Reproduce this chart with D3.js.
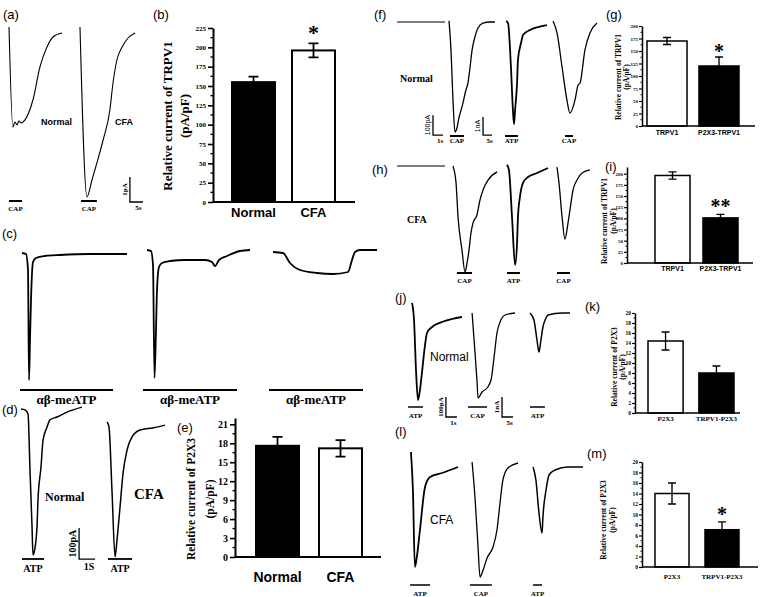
<!DOCTYPE html>
<html>
<head>
<meta charset="utf-8">
<script src="https://cdn.jsdelivr.net/npm/d3@7"></script>
<style>
body { margin: 0; background: #fff; }
svg { display: block; }
</style>
</head>
<body>
<script>
/* ---- Data ---- */
// traces: [time (s), current] pairs, current in the panel's amplitude unit
var aNormal = [[0,0],[1.5,-4.0],[2.3,-3.8],[3.1,-3.92],[3.8,-3.76],[4.6,-3.84],[5.4,-3.8],[9.2,-2.92],[11.9,-1.6],[14.6,-0.8],[16.9,-0.4],[20.4,-0.24]];
var aCFA = [[27.3,0],[30.0,-6.8],[31.9,-6.12],[33.8,-5.44],[36.2,-4.52],[38.8,-3.32],[40.0,-2.24],[41.5,-1.32],[43.5,-0.8],[45.8,-0.44],[48.5,-0.24]];
var aStims = [[0,5,"CAP"],[27.7,33.8,"CAP"]];

var c1 = [[0,0],[0.4,-10],[0.6,-170],[0.7,-1270],[0.8,-870],[0.9,-470],[1.1,-90],[1.4,-50],[2.3,-30],[3.8,-20],[6.8,-10],[10.5,-10]];
var c2 = [[12.5,30],[12.9,20],[13.1,-120],[13.25,-1250],[13.4,-770],[13.5,-370],[13.7,-140],[14.0,-100],[14.8,-80],[16.3,-70],[18.3,-70],[19.0,-90],[19.3,-130],[19.7,-70],[20.5,-30],[21.8,20],[22.8,30]];
var c3 = [[25.1,10],[26.1,0],[26.8,-100],[27.8,-170],[29.5,-200],[31.1,-210],[32.6,-190],[33.0,-70],[33.3,10],[33.8,30],[35.5,30]];
var cStims = [[-0.2,9.1,"αβ-meATP"],[12.1,21.5,"αβ-meATP"],[24.7,34.1,"αβ-meATP"]];

var dNormal = [[0,0],[0.25,-3],[0.44,-16],[0.56,-194],[0.69,-381],[0.75,-471],[0.81,-465],[1.0,-381],[1.06,-294],[1.25,-187],[1.38,-100],[1.63,-58],[1.81,-35],[2.25,-26],[2.88,-10],[3.81,6]];
var dCFA = [[5.38,-42],[5.5,-58],[5.69,-268],[5.88,-477],[6.0,-423],[6.19,-316],[6.38,-206],[6.63,-132],[6.94,-90],[7.44,-68],[8.25,-61],[9.0,-52]];
var dStims = [[0.06,1.44,"ATP"],[5.44,6.94,"ATP"]];

var fBase = [[0,0],[26.7,0]];
var fCap1 = [[28.9,0.06],[30.0,-1.56],[31.1,-4.33],[32.2,-6.11],[33.3,-5.89],[34.4,-5.33],[36.1,-4.72],[38.3,-3.78],[39.4,-3.39],[40.6,-2.5],[41.7,-1.56],[43.3,-0.83],[45.0,-0.33],[47.8,-0.06],[51.7,0],[54.4,0]];
var fAtp = [[60.6,0.06],[61.7,-0.06],[63.3,-2.5],[64.4,-4.89],[65.0,-5.67],[65.6,-4.89],[66.7,-3.39],[67.2,-2.11],[68.9,-1.17],[70.0,-0.72],[73.9,-0.44],[78.3,-0.28],[83.3,-0.17]];
var fCap2 = [[86.7,0.06],[88.9,-0.61],[91.7,-2.5],[94.4,-4.33],[96.1,-5.06],[98.9,-4.33],[100.6,-3.5],[101.7,-3.39],[104.4,-1.56],[107.2,-0.61],[111.1,-0.06]];
var fStims = [[29.4,37.2,"CAP"],[60,67.2,"ATP"],[93.3,97.8,"CAP"]];

var hBase = [[0,0],[26.7,0]];
var hCap1 = [[31.1,0],[32.8,-0.94],[33.9,-2.83],[36.1,-4.67],[37.8,-5.89],[38.9,-5.39],[40.0,-4.67],[41.1,-3.72],[42.2,-3.17],[44.4,-2.72],[46.1,-1.89],[47.8,-1.33],[50.6,-0.78],[55.6,-0.33]];
var hAtp = [[61.1,0.06],[62.2,-0.22],[63.9,-2.83],[65.6,-5.5],[66.7,-4.28],[67.2,-2.83],[68.3,-1.72],[70.0,-0.94],[72.8,-0.61],[77.8,-0.39],[83.9,-0.11]];
var hCap2 = [[88.9,-0.06],[90.0,-0.94],[91.7,-2.83],[93.3,-4.06],[95.0,-3.17],[96.1,-2.44],[97.8,-1.33],[100.0,-0.78],[102.8,-0.39],[107.2,-0.22]];
var hStims = [[33.3,41.7,"CAP"],[61.1,68.3,"ATP"],[88.9,96.1,"CAP"]];

var jAtp1 = [[3.2,0.5],[4.1,-0.35],[5.0,-2.85],[5.9,-4.35],[6.8,-3.85],[7.7,-3.0],[9.1,-1.6],[10.0,-1.0],[12.3,-0.7],[16.8,-0.45],[21.4,-0.3],[25.9,-0.2]];
var jCap = [[30.5,0],[31.4,-1.35],[32.7,-3.35],[33.2,-4.25],[35.0,-3.95],[37.3,-3.75],[39.1,-3.35],[40.5,-2.2],[41.8,-1.0],[43.2,-0.45],[45.5,-0.1],[50.0,0]];
var jAtp2 = [[56.8,0],[58.6,-0.35],[60.0,-1.35],[60.9,-1.95],[61.8,-1.35],[62.7,-0.7],[64.1,-0.25],[65.0,-0.1],[71.4,0],[75.0,0]];
var jStims = [[1.4,8.2,"ATP"],[28.6,37.3,"CAP"],[56.8,63.6,"ATP"]];

var lAtp1 = [[2.7,0.5],[3.6,-1.4],[4.5,-5.25],[5.5,-4.65],[6.8,-3.4],[9.1,-1.25],[11.4,-0.75],[16.8,-0.55],[24.1,-0.25]];
var lCap = [[30.5,0],[31.8,-1.75],[33.2,-4.25],[34.1,-5.75],[35.5,-5.4],[37.3,-4.8],[40.0,-4.25],[41.8,-3.4],[43.2,-2.05],[44.5,-0.9],[46.8,-0.3],[51.4,-0.05]];
var lAtp2 = [[58.2,-0.25],[59.5,-0.9],[60.9,-2.55],[62.3,-3.55],[62.7,-2.75],[64.1,-1.4],[65.5,-0.65],[68.2,-0.4],[74.1,-0.25],[80.9,-0.25]];
var lStims = [[2.3,11.4,"ATP"],[29.5,39.5,"CAP"],[58.2,62.3,"ATP"]];

// bar charts
var bCategories = ["Normal", "CFA"], bValues = [155, 196], bErrors = [7, 9];
var eCategories = ["Normal", "CFA"], eValues = [17.6, 17.2], eErrors = [1.4, 1.3];
var gCategories = ["TRPV1", "P2X3-TRPV1"], gValues = [170, 120], gErrors = [7, 18];
var iCategories = ["TRPV1", "P2X3-TRPV1"], iValues = [196, 101], iErrors = [8, 8];
var kCategories = ["P2X3", "TRPV1-P2X3"], kValues = [14.4, 8.0], kErrors = [1.8, 1.4];
var mCategories = ["P2X3", "TRPV1-P2X3"], mValues = [14.0, 7.1], mErrors = [2.0, 1.5];
var trpvTicks = [0,25,50,75,100,125,150,175,200];
var bTicks = [0,25,50,75,100,125,150,175,200,225];
var eTicks = [0,3,6,9,12,15,18,21];
var p2x3Ticks = [0,2,4,6,8,10,12,14,16,18,20];

/* ---- Setup ---- */
var SERIF = '"Liberation Serif","Times New Roman",serif',
    SANS = '"Liberation Sans",Arial,sans-serif';

var svg = d3.select("body").append("svg")
    .attr("width", 760)
    .attr("height", 597);
svg.append("rect").attr("width", 760).attr("height", 597).attr("fill", "#fff");

function label(txt, x, y, o) {
  o = o || {};
  var t = svg.append("text")
      .attr("x", x).attr("y", y)
      .attr("font-family", o.serif ? SERIF : SANS)
      .attr("font-size", o.size || 13)
      .attr("font-weight", o.bold ? "bold" : "normal")
      .attr("text-anchor", o.anchor || "start")
      .text(txt);
  if (o.rotate) t.attr("transform", "rotate(-90," + x + "," + y + ")");
  return t;
}

/* ---- Trace panels ---- */
function tracePanel(p) {
  var x = d3.scaleLinear().domain([0, 1]).range([p.x0, p.x0 + p.pxPerS]),
      y = d3.scaleLinear().domain([0, -1]).range([p.y0, p.y0 + p.pxPerUnit]);
  var line = d3.line()
      .x(function(d) { return x(d[0]); })
      .y(function(d) { return y(d[1]); })
      .curve(d3.curveMonotoneX);

  p.traces.forEach(function(tr) {
    svg.append("path")
        .datum(tr[0])
        .attr("d", line)
        .attr("fill", "none")
        .attr("stroke", "#000")
        .attr("stroke-width", tr[1])
        .attr("stroke-linejoin", "round");
  });

  p.stims.forEach(function(s) {
    svg.append("line")
        .attr("x1", x(s[0])).attr("x2", x(s[1]))
        .attr("y1", p.stimY).attr("y2", p.stimY)
        .attr("stroke", "#000").attr("stroke-width", p.stimW || 2);
    label(s[2], (x(s[0]) + x(s[1])) / 2, p.stimTextY, {serif: true, bold: true, size: p.stimSize, anchor: "middle"});
  });

  (p.scales || []).forEach(function(sb) {
    var sx = x(sb.t), sy = y(sb.i);
    svg.append("path")
        .attr("d", "M" + sx + "," + y(sb.i + sb.di) + "V" + sy + "H" + x(sb.t + sb.dt))
        .attr("fill", "none").attr("stroke", "#000").attr("stroke-width", 1.3);
    label(sb.amp, sx - 3, (sy + y(sb.i + sb.di)) / 2, {serif: sb.serif, bold: sb.serif, size: sb.size, anchor: "middle", rotate: true});
    label(sb.dur, (sx + x(sb.t + sb.dt)) / 2 + 2, sy + sb.size + 1, {serif: true, bold: true, size: sb.size, anchor: "middle"});
  });
}

tracePanel({x0: 9, y0: 27, pxPerS: 2.6, pxPerUnit: 25,
  traces: [[aNormal, 1.1], [aCFA, 1.1]],
  stims: aStims, stimY: 201, stimTextY: 211, stimSize: 7, stimW: 2,
  scales: [{t: 46.5, i: -7, dt: 5, di: 1, amp: "1pA", dur: "5s", size: 7, serif: true}]});
label("Normal", 41, 125, {bold: true, size: 9});
label("CFA", 115, 125, {bold: true, size: 9});

tracePanel({x0: 22, y0: 253, pxPerS: 10, pxPerUnit: 0.1,
  traces: [[c1, 1.8], [c2, 1.8], [c3, 1.8]],
  stims: cStims, stimY: 390, stimTextY: 404, stimSize: 13, stimW: 2});

tracePanel({x0: 21, y0: 409, pxPerS: 16, pxPerUnit: 0.31,
  traces: [[dNormal, 1.5], [dCFA, 1.5]],
  stims: dStims, stimY: 559, stimTextY: 572, stimSize: 10, stimW: 1.8,
  scales: [{t: 3.63, i: -484, dt: 1, di: 100, amp: "100pA", dur: "1S", size: 10, serif: true}]});
label("Normal", 45, 501, {serif: true, bold: true, size: 12});
label("CFA", 134, 499, {serif: true, bold: true, size: 15});

tracePanel({x0: 397, y0: 22, pxPerS: 1.8, pxPerUnit: 18,
  traces: [[fBase, 1.2], [fCap1, 1.3], [fAtp, 1.8], [fCap2, 1.3]],
  stims: fStims, stimY: 136, stimTextY: 143, stimSize: 7, stimW: 2,
  scales: [{t: 20, i: -6.28, dt: 5.6, di: 1.1, amp: "100pA", dur: "1s", size: 7},
           {t: 47.8, i: -6.28, dt: 5, di: 1.0, amp: "1nA", dur: "5s", size: 7}]});
label("Normal", 400, 82, {serif: true, bold: true, size: 10});

tracePanel({x0: 397, y0: 166, pxPerS: 1.8, pxPerUnit: 18,
  traces: [[hBase, 1.2], [hCap1, 1.3], [hAtp, 1.8], [hCap2, 1.3]],
  stims: hStims, stimY: 273, stimTextY: 283, stimSize: 7, stimW: 2});
label("CFA", 407, 223, {serif: true, bold: true, size: 10});

tracePanel({x0: 405, y0: 313, pxPerS: 2.2, pxPerUnit: 20,
  traces: [[jAtp1, 1.8], [jCap, 1.3], [jAtp2, 1.5]],
  stims: jStims, stimY: 407, stimTextY: 418, stimSize: 7, stimW: 1.5,
  scales: [{t: 18.6, i: -5.2, dt: 5, di: 1, amp: "100pA", dur: "1s", size: 7, serif: true},
           {t: 44.1, i: -5.2, dt: 5, di: 1, amp: "1nA", dur: "5s", size: 7, serif: true}]});
label("Normal", 430, 361, {size: 12});

tracePanel({x0: 405, y0: 462, pxPerS: 2.2, pxPerUnit: 20,
  traces: [[lAtp1, 1.8], [lCap, 1.3], [lAtp2, 1.5]],
  stims: lStims, stimY: 585, stimTextY: 596, stimSize: 7, stimW: 1.5});
label("CFA", 430, 524, {size: 12});

/* ---- Bar charts ---- */
function barChart(c) {
  var y = d3.scaleLinear().domain([0, c.max]).range([c.y0, c.yTop]);
  var x = d3.scaleBand().domain(c.categories).range(c.barRange).paddingInner(c.pad);
  var g = svg.append("g");

  // axis line x
  g.append("line")
      .attr("x1", c.axisX).attr("x2", c.axisEnd)
      .attr("y1", c.y0).attr("y2", c.y0)
      .attr("stroke", "#000").attr("stroke-width", c.lw);

  var yAxis = g.append("g")
      .attr("transform", "translate(" + c.axisX + ",0)")
      .call(d3.axisLeft(y).tickValues(c.ticks).tickSize(c.tick).tickSizeOuter(0).tickPadding(c.tickPad || 2));
  yAxis.select(".domain").attr("stroke-width", c.lw);
  yAxis.selectAll(".tick line").attr("stroke-width", c.lw * 0.8);
  yAxis.selectAll("text")
      .attr("font-family", SERIF).attr("font-weight", "bold").attr("font-size", c.tickSize);
  // minor ticks halfway
  var minor = c.ticks.slice(0, -1).map(function(v, k) { return (v + c.ticks[k + 1]) / 2; });
  g.selectAll(".minor").data(minor).enter().append("line")
      .attr("x1", c.axisX - c.tick * 0.5).attr("x2", c.axisX)
      .attr("y1", function(d) { return y(d); }).attr("y2", function(d) { return y(d); })
      .attr("stroke", "#000").attr("stroke-width", c.lw * 0.7);

  var bars = c.categories.map(function(cat, k) {
    return {cat: cat, v: c.values[k], e: c.errors[k], fill: c.fills[k]};
  });
  // error bars behind the bar tops
  g.selectAll(".err").data(bars).enter().append("path")
      .attr("d", function(d) {
        var cx = x(d.cat) + x.bandwidth() / 2, w = c.cap;
        return "M" + cx + "," + y(d.v - d.e) + "V" + y(d.v + d.e) +
               "M" + (cx - w) + "," + y(d.v + d.e) + "H" + (cx + w) +
               "M" + (cx - w) + "," + y(d.v - d.e) + "H" + (cx + w);
      })
      .attr("fill", "none").attr("stroke", "#000").attr("stroke-width", c.lw * 0.9);
  g.selectAll(".bar").data(bars).enter().append("rect")
      .attr("x", function(d) { return x(d.cat); })
      .attr("y", function(d) { return y(d.v); })
      .attr("width", x.bandwidth())
      .attr("height", function(d) { return y(0) - y(d.v); })
      .attr("fill", function(d) { return d.fill; })
      .attr("fill-opacity", function(d) { return d.fill === "#fff" ? 0 : 1; })
      .attr("stroke", "#000").attr("stroke-width", c.lw);

  bars.forEach(function(d) {
    label(d.cat, x(d.cat) + x.bandwidth() / 2, c.catY, {serif: c.catSerif, bold: true, size: c.catSize, anchor: "middle"});
  });
  (c.stars || []).forEach(function(s) {
    var cx = x(c.categories[s[0]]) + x.bandwidth() / 2;
    label(s[1], cx, y(s[2]), {serif: true, bold: true, size: c.starSize, anchor: "middle"});
  });

  // rotated y titles
  label(c.title, c.titleX, c.titleCY, {serif: true, bold: true, size: c.titleSize, anchor: "middle", rotate: true});
  label("(pA/pF)", c.titleX + c.titleGap, c.titleCY, {serif: true, bold: true, size: c.titleSize, anchor: "middle", rotate: true});
}

barChart({categories: bCategories, values: bValues, errors: bErrors, fills: ["#000", "#fff"],
  max: 225, y0: 202, yTop: 28, ticks: bTicks, axisX: 213, axisEnd: 355, barRange: [232, 335], pad: 0.283,
  lw: 2, tick: 5, tickSize: 7, cap: 5, catY: 217, catSize: 13, catSerif: false,
  stars: [[1, "*", 210]], starSize: 22,
  title: "Relative current of TRPV1", titleX: 172, titleGap: 17, titleSize: 13, titleCY: 116});

barChart({categories: eCategories, values: eValues, errors: eErrors, fills: ["#000", "#fff"],
  max: 22, y0: 557, yTop: 418, ticks: eTicks, axisX: 235, axisEnd: 381, barRange: [256, 362], pad: 0.317,
  lw: 2, tick: 5, tickSize: 10, cap: 5, catY: 582, catSize: 14, catSerif: false,
  title: "Relative current of P2X3", titleX: 195, titleGap: 19, titleSize: 11.5, titleCY: 499});

barChart({categories: gCategories, values: gValues, errors: gErrors, fills: ["#fff", "#000"],
  max: 200, y0: 126, yTop: 26, ticks: trpvTicks, axisX: 642, axisEnd: 755, barRange: [647, 739], pad: 0.23,
  lw: 1.5, tick: 3, tickSize: 5, tickPad: 1, cap: 4, catY: 135, catSize: 7, catSerif: false,
  stars: [[1, "*", 136]], starSize: 20,
  title: "Relative current of TRPV1", titleX: 621, titleGap: 8, titleSize: 7.5, titleCY: 77});

barChart({categories: iCategories, values: iValues, errors: iErrors, fills: ["#fff", "#000"],
  max: 215, y0: 263, yTop: 167, ticks: trpvTicks, axisX: 627, axisEnd: 753, barRange: [655, 738], pad: 0.27,
  lw: 1.5, tick: 3, tickSize: 5, tickPad: 1, cap: 4, catY: 271, catSize: 7, catSerif: false,
  stars: [[1, "**", 112]], starSize: 20,
  title: "Relative current of TRPV1", titleX: 607, titleGap: 9, titleSize: 7.5, titleCY: 221});

barChart({categories: kCategories, values: kValues, errors: kErrors, fills: ["#fff", "#000"],
  max: 20, y0: 413, yTop: 313, ticks: p2x3Ticks, axisX: 635, axisEnd: 740, barRange: [648, 734], pad: 0.31,
  lw: 1.5, tick: 3, tickSize: 5.5, tickPad: 1, cap: 4, catY: 421, catSize: 7, catSerif: true,
  title: "Relative current of P2X3", titleX: 617, titleGap: 8, titleSize: 7.5, titleCY: 367});

barChart({categories: mCategories, values: mValues, errors: mErrors, fills: ["#fff", "#000"],
  max: 20, y0: 567, yTop: 462, ticks: p2x3Ticks, axisX: 642, axisEnd: 758, barRange: [655, 739], pad: 0.32,
  lw: 1.5, tick: 3, tickSize: 5.5, tickPad: 1, cap: 4, catY: 579, catSize: 7, catSerif: true,
  stars: [[1, "*", 8.8]], starSize: 20,
  title: "Relative current of P2X3", titleX: 606, titleGap: 9, titleSize: 7.5, titleCY: 520});

/* ---- Panel letters ---- */
var panelLetters = [["(a)", 3, 19], ["(b)", 153, 19], ["(c)", 2, 238], ["(d)", 2, 414], ["(e)", 177, 432],
  ["(f)", 374, 19], ["(g)", 606, 19], ["(h)", 372, 174], ["(i)", 605, 171], ["(j)", 395, 302],
  ["(k)", 585, 311], ["(l)", 395, 436], ["(m)", 587, 458]];
panelLetters.forEach(function(p) { label(p[0], p[1], p[2], {size: 13}); });
</script>
</body>
</html>
